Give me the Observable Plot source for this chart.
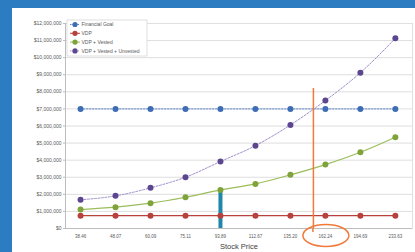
<!DOCTYPE html>
<html>
<head>
<meta charset="utf-8">
<script src="https://cdn.jsdelivr.net/npm/d3@7"></script>
<script src="https://cdn.jsdelivr.net/npm/@observablehq/plot@0.6"></script>
<style>
  html, body { margin: 0; padding: 0; }
  body { width: 415px; height: 252px; background: #2b7cc0; position: relative; overflow: hidden; font-family: "Liberation Sans", Arial, sans-serif; }
  #card { position: absolute; left: 12px; top: 8px; width: 403px; height: 244px; background: #fff; }
  #card svg { display: block; }
</style>
</head>
<body>
<div id="card"></div>
<script>
const categories = ["38.46", "48.07", "60.09", "75.11", "93.89", "112.67", "135.20", "162.24", "194.69", "233.63"];
const financialGoal = [7000000, 7000000, 7000000, 7000000, 7000000, 7000000, 7000000, 7000000, 7000000, 7000000];
const vdp = [750000, 750000, 750000, 750000, 750000, 750000, 750000, 750000, 750000, 750000];
const vdpVested = [1110000, 1250000, 1480000, 1830000, 2260000, 2610000, 3140000, 3740000, 4460000, 5340000];
const vdpVestedUnvested = [1680000, 1910000, 2380000, 3000000, 3920000, 4850000, 6060000, 7490000, 9120000, 11130000];
const seriesNames = ["Financial Goal", "VDP", "VDP + Vested", "VDP + Vested + Unvested"];
const yTicks = [0, 1000000, 2000000, 3000000, 4000000, 5000000, 6000000, 7000000, 8000000, 9000000, 10000000, 11000000, 12000000];
const highlightIndex = 4;      // 93.89 bar
const circledIndex = 7;        // 162.24 circled label
const crossTop = 8200000;      // top of the orange crossing line

const colors = {
  goal: "#3d6db5", goalLine: "#5b84c4",
  vdp: "#b8413d",
  vested: "#7fa33a", vestedLine: "#9bbd5a",
  total: "#5d4690", totalLine: "#a08fcc",
  bar: "#1f87aa", orange: "#f07a3a"
};

const mk = (arr) => arr.map((v, i) => ({i, v}));
const goalD = mk(financialGoal), vdpD = mk(vdp), vestedD = mk(vdpVested), totalD = mk(vdpVestedUnvested);

let cross = null;
for (let k = 0; k < 9; k++) {
  const a = vdpVestedUnvested[k] - financialGoal[k], b = vdpVestedUnvested[k+1] - financialGoal[k+1];
  if (a < 0 && b >= 0) { cross = k + a / (a - b); break; }
}

const plot = Plot.plot({
  width: 403, height: 244,
  marginLeft: 53, marginRight: 3, marginTop: 15, marginBottom: 24,
  style: {fontFamily: "'Liberation Sans', Arial, sans-serif", background: "transparent", color: "#595959"},
  x: {type: "linear", domain: [-0.43, 9.49]},
  y: {domain: [0, 12000000]},
  marks: [
    Plot.gridY(yTicks, {stroke: "#dedede", strokeOpacity: 1}),
    Plot.frame({stroke: "#e0e0e0"}),
    Plot.ruleX([-0.43], {stroke: "#bdbdbd"}),
    Plot.ruleY([0], {stroke: "#bdbdbd"}),
    Plot.axisY({ticks: yTicks, tickFormat: d3.format("$,"), tickSize: 2, tickPadding: 2, fontSize: 5, stroke: "#bdbdbd", fill: "#595959", label: null}),
    Plot.axisX({ticks: d3.range(categories.length), tickFormat: (d) => categories[d], tickSize: 0, tickPadding: 6, fontSize: 4.5, fill: "#595959", label: null}),
    Plot.text(["Stock Price"], {frameAnchor: "bottom", dy: 20, fontSize: 7.5, fill: "#404040"}),
    Plot.ruleX([highlightIndex], {y1: 0, y2: vdpVested[highlightIndex], stroke: colors.bar, strokeWidth: 4}),
    Plot.line(goalD, {x: "i", y: "v", stroke: colors.goalLine, strokeWidth: 1, strokeDasharray: "1.5,1.5"}),
    Plot.line(vdpD, {x: "i", y: "v", stroke: colors.vdp, strokeWidth: 1.2}),
    Plot.line(vestedD, {x: "i", y: "v", stroke: colors.vestedLine, strokeWidth: 1.2, curve: "monotone-x"}),
    Plot.line(totalD, {x: "i", y: "v", stroke: colors.totalLine, strokeWidth: 1, strokeDasharray: "2,1.5", curve: "monotone-x"}),
    Plot.dot(goalD, {x: "i", y: "v", r: 3, fill: colors.goal}),
    Plot.dot(vdpD, {x: "i", y: "v", r: 3, fill: colors.vdp}),
    Plot.dot(vestedD, {x: "i", y: "v", r: 3, fill: colors.vested}),
    Plot.dot(totalD, {x: "i", y: "v", r: 3, fill: colors.total}),
    Plot.ruleX([cross], {y1: crossTop, y2: 0, stroke: colors.orange, strokeWidth: 1.5})
  ]
});

document.getElementById("card").appendChild(plot);

const svg = d3.select(plot);
const xs = plot.scale("x"), ys = plot.scale("y");

svg.append("line")
  .attr("x1", xs.apply(cross)).attr("x2", xs.apply(cross))
  .attr("y1", ys.apply(0)).attr("y2", ys.apply(0) + 4)
  .attr("stroke", colors.orange).attr("stroke-width", 1.5);

svg.append("ellipse")
  .attr("cx", xs.apply(circledIndex) + 1).attr("cy", ys.apply(0) + 7.5)
  .attr("rx", 23).attr("ry", 11)
  .attr("fill", "none").attr("stroke", colors.orange).attr("stroke-width", 1.5);

const lg = svg.append("g").attr("transform", "translate(55,12)").attr("text-anchor", "start");
lg.append("rect").attr("width", 80).attr("height", 36).attr("fill", "#fff").attr("stroke", "#d0d0d0").attr("stroke-width", 0.7);
const legendItems = [
  {name: seriesNames[0], dot: colors.goal, line: colors.goalLine, dash: "1.5,1"},
  {name: seriesNames[1], dot: colors.vdp, line: colors.vdp, dash: null},
  {name: seriesNames[2], dot: colors.vested, line: colors.vestedLine, dash: null},
  {name: seriesNames[3], dot: colors.total, line: colors.totalLine, dash: "1.5,1"}
];
legendItems.forEach((it, k) => {
  const g = lg.append("g").attr("transform", `translate(0,${4.5 + k * 8.8})`);
  g.append("line").attr("x1", 3).attr("x2", 13).attr("y1", 0).attr("y2", 0)
    .attr("stroke", it.line).attr("stroke-width", 1).attr("stroke-dasharray", it.dash);
  g.append("circle").attr("cx", 8).attr("cy", 0).attr("r", 2.6).attr("fill", it.dot);
  g.append("text").attr("x", 14.5).attr("y", 0).attr("dy", "0.35em").attr("text-anchor", "start")
    .attr("font-size", 5).attr("fill", "#595959").text(it.name);
});
</script>
</body>
</html>
